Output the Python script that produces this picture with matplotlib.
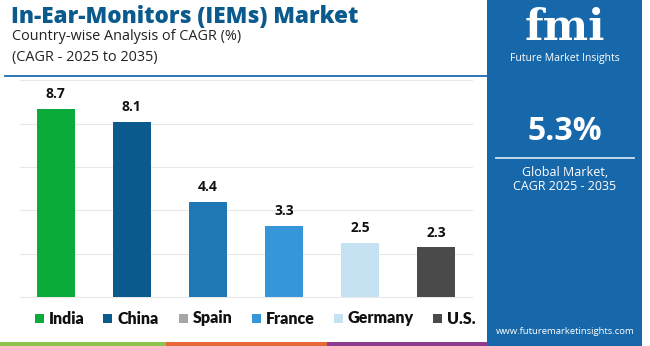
import matplotlib.pyplot as plt
from matplotlib.patches import Rectangle
from matplotlib.lines import Line2D

# Country-wise CAGR data
countries = ["India", "China", "Spain", "France", "Germany", "U.S."]
cagr = [8.7, 8.1, 4.4, 3.3, 2.5, 2.3]
bar_colors = ["#0aab38", "#0b5a8e", "#1f77b4", "#3596d8", "#c5e2f2", "#4a4a4a"]
legend_colors = ["#0aab38", "#0b5a8e", "#a6a6a6", "#3596d8", "#c5e2f2", "#4a4a4a"]
global_cagr = "5.3%"

W, H = 650, 346
fig = plt.figure(figsize=(W / 100, H / 100), dpi=100)
plt.rcParams['font.family'] = ['Open Sans', 'DejaVu Sans']

def fx(px):
    return px / W

def fy(py):
    return 1 - py / H

ax = fig.add_axes([fx(20), fy(297), fx(472) - fx(20), fy(80) - fy(297)])
x = range(len(countries))
ax.bar(x, cagr, width=0.5, color=bar_colors, zorder=3)
for i, v in enumerate(cagr):
    ax.text(i, v + 0.35, f"{v}", ha='center', va='bottom', fontsize=10,
            fontweight='bold', color='#111111')
ax.set_xlim(-0.47, 5.47)
ax.set_ylim(0, 10.02)
for g in [0, 2, 4, 6, 8, 10]:
    ax.axhline(g, color='#e8e8e8', lw=0.8, zorder=0, clip_on=False)
ax.set_xticks([])
ax.set_yticks([])
for s in ax.spines.values():
    s.set_visible(False)

# legend, placed by hand like the original
leg_sq = [35, 103, 179, 252, 334, 433]
for name, c, px in zip(countries, legend_colors, leg_sq):
    fig.add_artist(Rectangle((fx(px), fy(323)), fx(9), 9 / H, color=c, lw=0))
    fig.text(fx(px + 14), fy(318.5), name, fontsize=11.5, fontweight='heavy',
             family=['Lato', 'DejaVu Sans'], color='#111111', ha='left', va='center')

# titles
fig.text(fx(11), fy(17), "In-Ear-Monitors (IEMs) Market", fontsize=16.2,
         fontweight='heavy', color='#0b5a8e', va='center', ha='left')
fig.text(fx(12), fy(37), "Country-wise Analysis of CAGR (%)", fontsize=10.4,
         color='#222222', va='center', ha='left')
fig.text(fx(12), fy(57), "(CAGR - 2025 to 2035)", fontsize=10.4,
         color='#222222', va='center', ha='left')
fig.add_artist(Line2D([fx(5), fx(487)], [fy(76), fy(76)], color='#1a6aaf', lw=1.3))

# bottom stripes
for x0, x1, c in [(0, 166, '#8dc34a'), (166, 327, '#e8683a'), (327, 490, '#8e3a8f')]:
    fig.add_artist(Rectangle((fx(x0), 0), fx(x1) - fx(x0), fy(342), color=c, lw=0))

# right panel
fig.add_artist(Rectangle((fx(487), 0), fx(642) - fx(487), 1, color='#1767ab', lw=0))
cx = fx(565)
fig.text(cx, fy(28), "fmi", fontsize=31, fontweight='bold', family='DejaVu Serif',
         color='white', ha='center', va='center')
fig.text(cx, fy(59), "Future Market Insights", fontsize=7.5, color='white',
         ha='center', va='center')
fig.text(cx, fy(131), global_cagr, fontsize=23, fontweight='bold', color='white',
         ha='center', va='center')
fig.add_artist(Line2D([fx(496), fx(634)], [fy(158), fy(158)], color='#cfe3f3', lw=1.3))
fig.text(cx, fy(173), "Global Market,", fontsize=9, color='white', ha='center', va='center')
fig.text(cx, fy(187), "CAGR 2025 - 2035", fontsize=9, color='white', ha='center', va='center')
fig.text(cx, fy(331), "www.futuremarketinsights.com", fontsize=6.8, color='white',
         ha='center', va='center')

fig.savefig("out.png", dpi=100)
